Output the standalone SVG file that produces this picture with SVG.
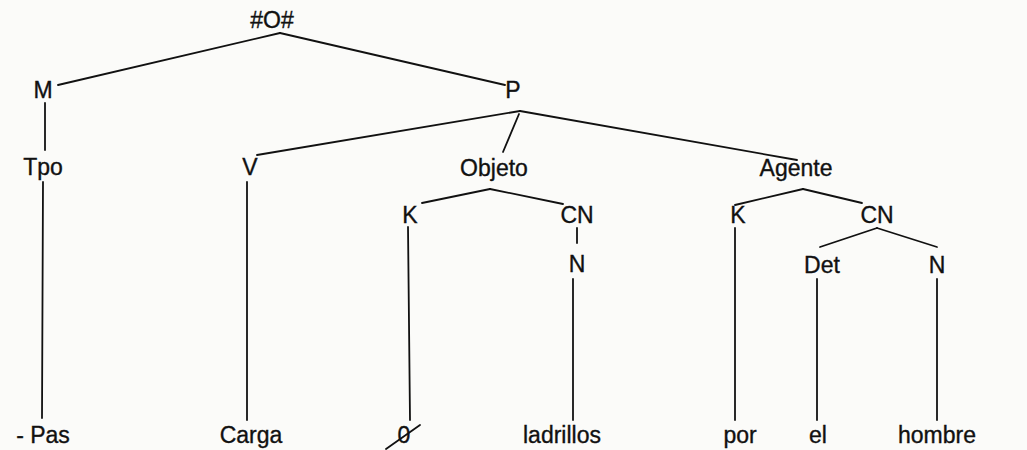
<svg xmlns="http://www.w3.org/2000/svg" width="1027" height="450" viewBox="0 0 1027 450">
<style>
text{font-family:"Liberation Sans",Arial,sans-serif;font-size:23px;fill:#111;stroke:#111;stroke-width:0.35;text-anchor:middle}
.e{stroke:#111;stroke-width:1.8;fill:none;stroke-linecap:round}
</style>
<rect width="1027" height="450" fill="#fbfbf9"/>
<g id="connectors" class="e">
<path d="M280 33 L58 85"/>
<path d="M280 33 L505 85"/>
<path d="M45 103 L45 150"/>
<path d="M43 182 L42 418"/>
<path d="M520 111 L257 155"/>
<path d="M519 114 L503 152"/>
<path d="M520 111 L797 160"/>
<path d="M247 182 L247 420"/>
<path d="M490 189 L422 203"/>
<path d="M490 189 L563 204"/>
<path d="M408 227 L410 420"/>
<path d="M577 228 L577 243"/>
<path d="M573 279 L573 420"/>
<path d="M803 189 L735 205"/>
<path d="M803 189 L862 203"/>
<path d="M735 228 L735 420"/>
<path d="M877 228 L820 247"/>
<path d="M877 228 L937 247"/>
<path d="M817 279 L817 420"/>
<path d="M937 279 L937 420"/>
</g>
<g id="n-root"><text x="272" y="28">#O#</text></g>
<g id="n-M"><text x="43" y="98">M</text></g>
<g id="n-P"><text x="513" y="98">P</text></g>
<g id="n-Tpo"><text x="43" y="175">Tpo</text></g>
<g id="n-V"><text x="250" y="175">V</text></g>
<g id="n-Objeto"><text x="494" y="176">Objeto</text></g>
<g id="n-Agente"><text x="796" y="176">Agente</text></g>
<g id="n-K1"><text x="410" y="223">K</text></g>
<g id="n-CN1"><text x="577" y="223">CN</text></g>
<g id="n-N1"><text x="577" y="272">N</text></g>
<g id="n-K2"><text x="738" y="223">K</text></g>
<g id="n-CN2"><text x="877" y="223">CN</text></g>
<g id="n-Det"><text x="822" y="273">Det</text></g>
<g id="n-N2"><text x="937" y="273">N</text></g>
<g id="n-Pas"><text x="43" y="443">- Pas</text></g>
<g id="n-Carga"><text x="251" y="443">Carga</text></g>
<g id="n-zero"><text x="404" y="443">0</text><path class="e" d="M386 449 L420 425" stroke-width="1.4"/></g>
<g id="n-ladrillos"><text x="562" y="443">ladrillos</text></g>
<g id="n-por"><text x="740" y="443">por</text></g>
<g id="n-el"><text x="818" y="443">el</text></g>
<g id="n-hombre"><text x="937" y="443">hombre</text></g>
</svg>
